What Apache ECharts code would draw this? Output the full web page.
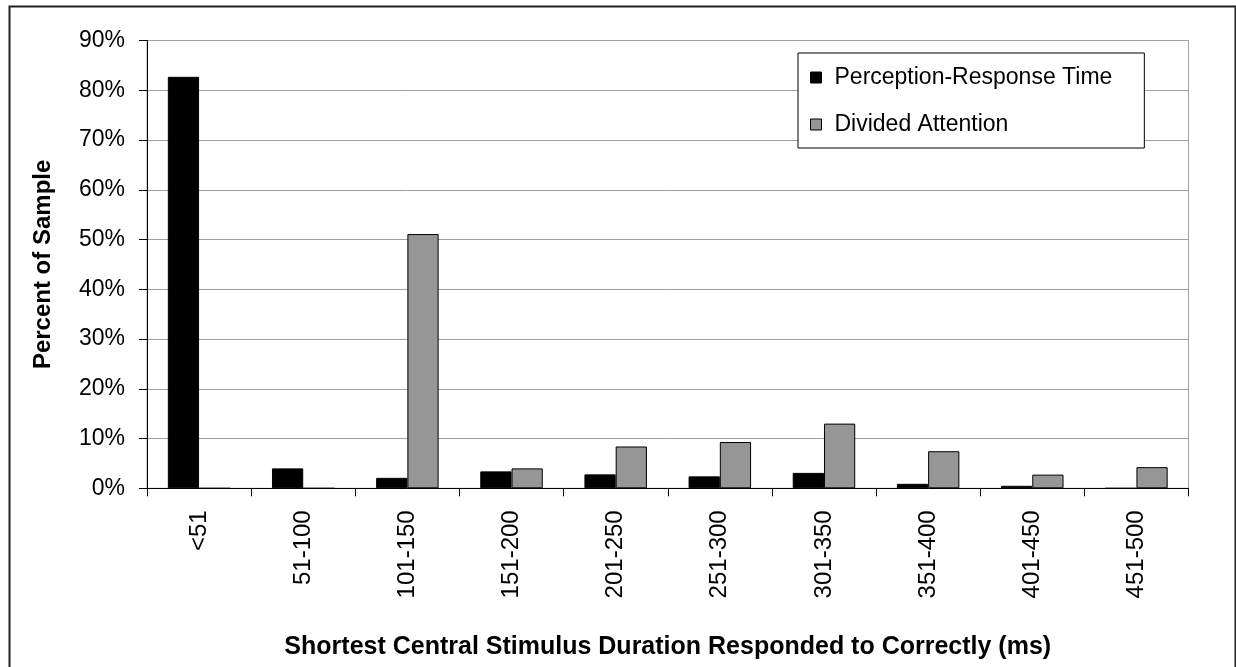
<!DOCTYPE html>
<html>
<head>
<meta charset="utf-8">
<script src="https://cdn.jsdelivr.net/npm/echarts@6/dist/echarts.min.js"></script>
<style>
html,body{margin:0;padding:0;background:#fff;}
#chart{width:1236px;height:667px;}
</style>
</head>
<body>
<div id="chart"></div>
<script>
var categories = ['<51','51-100','101-150','151-200','201-250','251-300','301-350','351-400','401-450','451-500'];
var perceptionResponse = [82.7, 4.0, 2.1, 3.4, 2.8, 2.4, 3.1, 0.9, 0.5, 0];
var dividedAttention = [0, 0, 51.1, 4.0, 8.4, 9.3, 13.0, 7.45, 2.75, 4.25];
var yTicks = { min: 0, max: 90, interval: 10 };

var FONT = "'Liberation Sans', Arial, sans-serif";
var chart = echarts.init(document.getElementById('chart'), null, {renderer: 'canvas'});
chart.setOption({
  animation: false,
  backgroundColor: '#fff',
  textStyle: { fontFamily: FONT, color: '#000' },
  graphic: [{
    type: 'rect', left: 7, top: 4, silent: true, z: -10,
    shape: { width: 1226, height: 720 },
    style: { fill: 'none', stroke: '#222', lineWidth: 2 }
  }],
  grid: {
    left: 147, right: 47.5, top: 40.5, bottom: 178.7,
    show: true, borderColor: '#a0a0a0', borderWidth: 1, backgroundColor: 'transparent'
  },
  legend: {
    orient: 'vertical',
    left: 798, top: 53,
    padding: [13, 32, 12, 12],
    itemGap: 24,
    itemWidth: 11, itemHeight: 11,
    borderColor: '#000', borderWidth: 1,
    backgroundColor: '#fff',
    icon: 'rect',
    textStyle: { fontFamily: FONT, fontSize: 23, color: '#000', padding: [0, 0, 0, 8], lineHeight: 23 },
    data: [
      { name: 'Perception-Response Time', itemStyle: { color: '#000', borderColor: '#000', borderWidth: 1 } },
      { name: 'Divided Attention', itemStyle: { color: '#969696', borderColor: '#000', borderWidth: 1 } }
    ]
  },
  xAxis: {
    type: 'category',
    data: categories,
    boundaryGap: true,
    name: 'Shortest Central Stimulus Duration Responded to Correctly (ms)',
    nameLocation: 'middle',
    nameGap: 146,
    nameTextStyle: { fontFamily: FONT, fontSize: 25, fontWeight: 'bold', color: '#000' },
    axisLine: { lineStyle: { color: '#000', width: 1 } },
    axisTick: { show: true, length: 8, interval: 0, lineStyle: { color: '#000' } },
    axisLabel: { rotate: 90, interval: 0, margin: 22, fontFamily: FONT, fontSize: 24, color: '#000' },
    splitLine: { show: false }
  },
  yAxis: {
    type: 'value',
    min: yTicks.min, max: yTicks.max, interval: yTicks.interval,
    name: 'Percent of Sample',
    nameLocation: 'middle',
    nameRotate: 90,
    nameGap: 92,
    nameTextStyle: { fontFamily: FONT, fontSize: 24, fontWeight: 'bold', color: '#000' },
    axisLine: { show: true, lineStyle: { color: '#000', width: 1 } },
    axisTick: { show: true, length: 8, lineStyle: { color: '#000' } },
    axisLabel: { formatter: '{value}%', margin: 22, fontFamily: FONT, fontSize: 23, color: '#000' },
    splitLine: { show: true, lineStyle: { color: '#a0a0a0', width: 1 } }
  },
  series: [
    {
      name: 'Perception-Response Time', type: 'bar', data: perceptionResponse,
      barGap: '0%', barCategoryGap: '40%',
      itemStyle: { color: '#000', borderColor: '#000', borderWidth: 1 }
    },
    {
      name: 'Divided Attention', type: 'bar', data: dividedAttention,
      barGap: '0%', barCategoryGap: '40%',
      itemStyle: { color: '#969696', borderColor: '#000', borderWidth: 1 }
    }
  ]
});
</script>
</body>
</html>
